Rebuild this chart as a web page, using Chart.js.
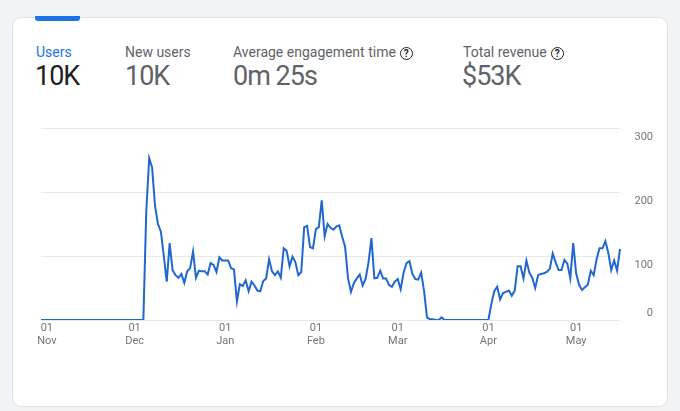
<!DOCTYPE html>
<html>
<head>
<meta charset="utf-8">
<script src="https://cdn.jsdelivr.net/npm/chart.js@4.4.1/dist/chart.umd.min.js"></script>
<style>
  html, body { margin:0; padding:0; width:680px; height:411px; overflow:hidden; background:#f3f4f6; font-family: Roboto, "Noto Sans", Arial, sans-serif; }
  .card { position:absolute; left:12px; top:17px; width:656px; height:390px; background:#fff; border:1px solid #dfe1e5; border-radius:9px; box-sizing:border-box; }
  .tab { position:absolute; left:35px; top:16px; width:45px; height:5px; background:#1a73e8; border-radius:0 0 3px 3px; }
  .lbl { position:absolute; top:44px; font-size:14px; line-height:16px; color:#5f6368; white-space:nowrap; }
  .val { position:absolute; top:61px; font-size:27px; line-height:30px; letter-spacing:-1px; color:#5f6368; white-space:nowrap; }
  .q { display:inline-block; width:11px; height:11px; border:1.8px solid #202124; border-radius:50%; font-size:10px; line-height:11px; text-align:center; font-weight:bold; color:#202124; vertical-align:0px; margin-left:4px; letter-spacing:0; }
  #wrap { position:absolute; left:0; top:0; width:680px; height:411px; }
</style>
</head>
<body>
<div class="card"></div>
<div class="tab"></div>
<div class="lbl" style="left:36px;color:#1a73e8;">Users</div>
<div class="val" style="left:35px;color:#202124;">10K</div>
<div class="lbl" style="left:125px;">New users</div>
<div class="val" style="left:125px;">10K</div>
<div class="lbl" style="left:233px;">Average engagement time<span class="q">?</span></div>
<div class="val" style="left:233px;">0m 25s</div>
<div class="lbl" style="left:463px;">Total revenue<span class="q">?</span></div>
<div class="val" style="left:462px;">$53K</div>
<div id="wrap"><canvas id="c"></canvas></div>
<script>
// ---- data ----
const startDate = [2022, 9, 30]; // 30 Oct 2022 (month is 0-based)
const monthNames = ['Jan','Feb','Mar','Apr','May','Jun','Jul','Aug','Sep','Oct','Nov','Dec'];
const yTicks = [0, 100, 200, 300];
const users = [
  0,0,0,0,0,0,0,0,0,0,0,0,0,0,0,0,0,0,0,0,0,0,0,0,0,0,0,0,0,0,0,0,0,0,0,0,
  170,253,238,178,150,138,100,60,120,78,70,66,72,58,76,81,107,66,77,76,76,71,89,86,75,98,
  93,93,93,81,79,29,56,53,62,45,60,54,46,45,61,65,95,76,70,76,66,112,108,84,99,90,70,75,
  145,147,114,112,142,145,187,131,150,144,141,146,148,130,114,65,44,58,65,71,54,64,90,128,
  65,66,77,65,65,55,52,60,64,48,74,89,92,72,64,63,74,45,4,1,1,0,0,4,0,
  0,0,0,0,0,0,0,0,0,0,0,0,0,0,0,
  25,45,52,32,42,44,46,38,46,84,84,65,93,74,66,50,70,72,73,75,80,104,90,78,78,94,88,65,120,
  73,55,47,51,55,77,70,95,112,112,123,105,78,93,77,111
];

// category labels: one per day
const dayLabels = users.map((_, i) => {
  const d = new Date(Date.UTC(startDate[0], startDate[1], startDate[2] + i));
  return { day: d.getUTCDate(), month: monthNames[d.getUTCMonth()] };
});

const zeroLabel = {
  id: 'zeroLabel',
  afterDraw(chart) {
    const y = chart.scales.y;
    const ctx = chart.ctx;
    ctx.save();
    ctx.font = '11px Roboto, "Noto Sans", sans-serif';
    ctx.fillStyle = '#70757a';
    ctx.textAlign = 'right';
    ctx.textBaseline = 'middle';
    ctx.fillText('0', y.right, y.getPixelForValue(0) - 7);
    ctx.restore();
  }
};

new Chart(document.getElementById('c'), {
  type: 'line',
  data: {
    labels: dayLabels.map((d, i) => i),
    datasets: [{
      data: users,
      borderColor: '#2167cf',
      borderWidth: 2,
      pointRadius: 0,
      tension: 0,
      fill: false
    }]
  },
  options: {
    responsive: true,
    maintainAspectRatio: false,
    animation: false,
    events: [],
    layout: { padding: { left: 41, right: 27, top: 128, bottom: 56 } },
    plugins: { legend: { display: false }, tooltip: { enabled: false } },
    scales: {
      x: {
        type: 'category',
        grid: { display: false, drawTicks: false },
        border: { display: false },
        afterFit(s) { s.height = 35; },
        ticks: {
          autoSkip: false,
          maxRotation: 0,
          padding: 2,
          color: '#70757a',
          font: { size: 11, family: 'Roboto, "Noto Sans", sans-serif', lineHeight: 1.15 },
          callback(v, i) {
            const d = dayLabels[i];
            return d.day === 1 ? ['01', d.month] : '';
          }
        }
      },
      y: {
        position: 'right',
        min: 0, max: 300,
        afterFit(s) { s.width = 33; },
        afterBuildTicks(s) { s.ticks = yTicks.map(v => ({ value: v })); },
        grid: { color: '#e6e8eb', lineWidth: 1, drawTicks: false },
        border: { display: false },
        ticks: {
          crossAlign: 'far',
          padding: 13,
          labelOffset: 9,
          color: (ctx) => ctx.tick && ctx.tick.value === 0 ? 'rgba(0,0,0,0)' : '#70757a',
          font: { size: 11, family: 'Roboto, "Noto Sans", sans-serif' }
        }
      }
    }
  },
  plugins: [zeroLabel]
});
</script>
</body>
</html>
